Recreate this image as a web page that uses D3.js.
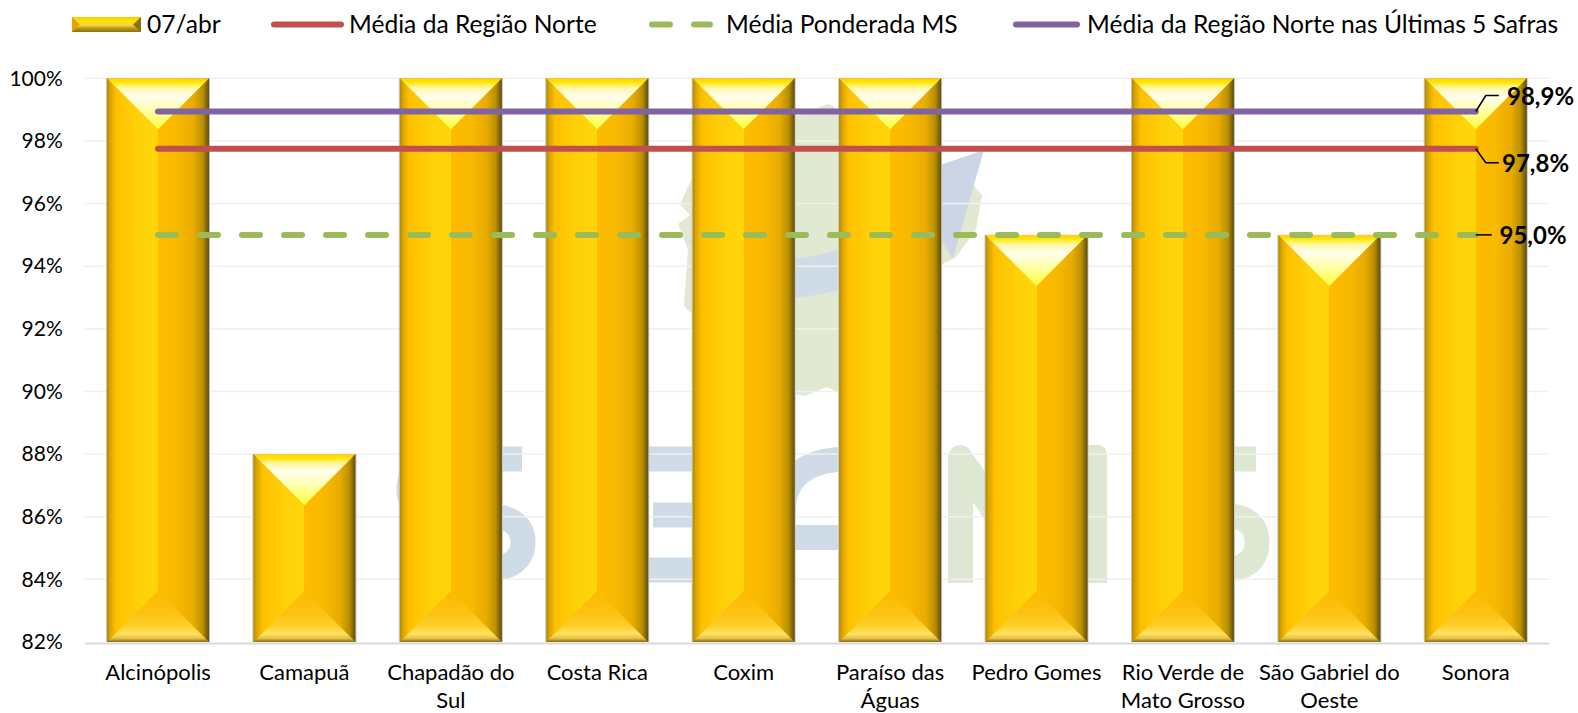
<!DOCTYPE html>
<html>
<head>
<meta charset="utf-8">
<script src="https://cdn.jsdelivr.net/npm/d3@7"></script>
<style>
  html, body { margin: 0; padding: 0; background: #fff; overflow: hidden; }
  text { font-family: Lato, "Open Sans", sans-serif; fill: #000; }
  .tick text { font-size: 21px; }
  .x-axis .tick text { font-size: 22px; }
  .legend text { font-size: 24.6px; }
  .value-label { font-size: 24px; font-weight: bold; }
</style>
</head>
<body>
<svg id="chart" width="1578" height="713"></svg>
<script>
let categories = ['Alcinópolis', 'Camapuã', 'Chapadão do Sul', 'Costa Rica', 'Coxim',
  'Paraíso das Águas', 'Pedro Gomes', 'Rio Verde de Mato Grosso', 'São Gabriel do Oeste', 'Sonora'];
let barValues = [100, 88, 100, 100, 100, 100, 95, 100, 95, 100];
let yTicks = [82, 84, 86, 88, 90, 92, 94, 96, 98, 100];

let barName = '07/abr';
let lineNames = ['Média da Região Norte', 'Média Ponderada MS', 'Média da Região Norte nas Últimas 5 Safras'];
let lineValues = [97.75, 95.0, 98.94];
let lineColors = ['#c0504d', '#9bbb59', '#8064a2'];

let svg = d3.select('#chart');
let defs = svg.append('defs');

let x = d3.scaleBand().domain(categories).range([84.8, 1549]).paddingInner(.303).paddingOuter(.1515);
let y = d3.scaleLinear().domain([82, 100]).range([642, 78.3]);

function gradient(id, stops, vertical) {
  let g = defs.append('linearGradient').attr('id', id)
    .attr('x1', 0).attr('y1', 0)
    .attr('x2', vertical ? 0 : 1).attr('y2', vertical ? 1 : 0);
  stops.forEach(s => g.append('stop').attr('offset', s[0]).attr('stop-color', s[1]));
}
gradient('barBody', [[0, '#b08a00'], [.03, '#d9a400'], [.09, '#ffc000'], [.3, '#ffd008'], [.5, '#ffd60a'],
  [.5, '#ffbc00'], [.7, '#f8b900'], [.85, '#e8ab00'], [.94, '#b98f00'], [1, '#5f4c10']]);
gradient('barTop', [[0, '#ffc81e'], [.08, '#ffe800'], [.18, '#fff6a0'], [.35, '#fffff0'], [.6, '#fffeb0'], [1, '#ffff3c']], true);
gradient('barBottom', [[0, '#fdbb00'], [.45, '#fcc212'], [.72, '#fdd232'], [.84, '#ffe365'], [.93, '#e8c040'], [1, '#7f6a1c']], true);
gradient('legendBody', [[0, '#ffca00'], [.3, '#ffe400'], [.55, '#f4d440'], [.75, '#b89a18'], [1, '#8a7212']], true);

// faded logo behind the plot
let wm = svg.append('g').attr('class', 'watermark');
let blue = '#cfdbe6', green = '#dde7d1';
wm.append('path').attr('fill', '#e1e9d3')
  .attr('d', 'M828 104 Q838 106 842 120 L860 150 L960 170 L982 195 L976 230 L955 258 L930 270 L900 330 L845 396 L827 387 L805 396 L785 392 L740 350 L690 312 L684 306 L688 250 L678 224 L690 215 L680 204 L705 150 Z');
wm.append('path').attr('fill', blue)
  .attr('d', 'M688 238 Q740 270 800 258 Q900 245 980 150 L952 258 L940 240 Q900 270 840 290 Q760 310 710 280 Z');
wm.append('path').attr('fill', '#ccd5e5')
  .attr('d', 'M940 165 L984 150 L953 258 L940 230 Z');

wm.append('path').attr('fill', 'none').attr('stroke', blue).attr('stroke-width', 25)
  .attr('d', 'M522 459 L450 459 Q409 459 409 490 Q409 515 450 515 L480 515 Q523 515 523 542 Q523 570 480 570 L420 570');
wm.append('path').attr('fill', 'none').attr('stroke', blue).attr('stroke-width', 25)
  .attr('d', 'M692 459 L610 459 L610 570 L692 570 M653 515 L692 515');
wm.append('path').attr('fill', 'none').attr('stroke', blue).attr('stroke-width', 25)
  .attr('d', 'M850 459 Q785 459 783 510');
wm.append('rect').attr('fill', blue).attr('x', 790).attr('y', 525).attr('width', 60).attr('height', 25);
wm.append('path').attr('fill', green)
  .attr('d', 'M948 583 L948 458 Q950 445 961 445 Q968 445 973 455 L990 478 L990 528 L973 502 L973 583 Z');
wm.append('path').attr('fill', green)
  .attr('d', 'M1080 583 L1080 445 L1097 445 Q1107 445 1107 458 L1107 583 Z');
wm.append('path').attr('fill', 'none').attr('stroke', green).attr('stroke-width', 25)
  .attr('d', 'M1256 459 L1180 459 Q1152 459 1152 490 Q1152 515 1180 515 L1220 515 Q1257 515 1257 542 Q1257 570 1220 570 L1160 570');

// gridlines + axes
svg.append('g').attr('class', 'grid')
  .selectAll('line').data(yTicks.slice(1)).enter().append('line')
  .attr('x1', 84.8).attr('x2', 1549)
  .attr('y1', d => y(d)).attr('y2', d => y(d))
  .attr('stroke', '#f0f0f0').attr('stroke-width', 1.5);

let yAxis = svg.append('g').attr('transform', 'translate(84.8,0)')
  .call(d3.axisLeft(y).tickValues(yTicks).tickSize(0).tickPadding(22).tickFormat(d => d + '%'));
yAxis.select('.domain').remove();

let xAxis = svg.append('g').attr('class', 'x-axis').attr('transform', 'translate(0,643)')
  .call(d3.axisBottom(x).tickSize(0).tickPadding(0));
xAxis.select('.domain').attr('stroke', '#d9d9d9').attr('stroke-width', 2);

function wrap(sel, width) {
  sel.each(function() {
    let t = d3.select(this), words = t.text().split(' '), line = [];
    t.text(null).attr('dy', null).attr('y', 36.5);
    let span = t.append('tspan').attr('x', 0).attr('dy', 0);
    words.forEach(w => {
      line.push(w);
      span.text(line.join(' '));
      if (span.node().getComputedTextLength() > width && line.length > 1) {
        line.pop();
        span.text(line.join(' '));
        line = [w];
        span = t.append('tspan').attr('x', 0).attr('dy', 28).text(w);
      }
    });
  });
}
xAxis.selectAll('.tick text').call(wrap, x.step() - 4);

// bars
let bars = svg.append('g').attr('class', 'bars')
  .selectAll('g').data(categories).enter().append('g');
let bx = d => x(d), bw = x.bandwidth();
let by = (d, i) => y(barValues[i]);

bars.append('rect')
  .attr('x', d => bx(d) - 1).attr('width', bw + 2)
  .attr('y', by).attr('height', (d, i) => y(82) - by(d, i))
  .attr('fill', '#c8c8c8');
bars.append('rect')
  .attr('x', bx).attr('width', bw)
  .attr('y', by).attr('height', (d, i) => y(82) - by(d, i))
  .attr('fill', 'url(#barBody)');
bars.append('polygon').attr('fill', 'url(#barTop)')
  .attr('points', (d, i) => [[bx(d), by(d, i)], [bx(d) + bw, by(d, i)], [bx(d) + bw / 2, by(d, i) + bw / 2]].join(' '));
bars.append('polygon').attr('fill', 'url(#barBottom)')
  .attr('points', d => [[bx(d), y(82)], [bx(d) + bw / 2, y(82) - bw / 2], [bx(d) + bw, y(82)]].join(' '));

// horizontal reference lines, first to last category centre
let xEnd = x(categories[categories.length - 1]) + bw / 2;
let lineGen = d3.line().x(d => x(d) + bw / 2);
let order = [1, 0, 2];
order.forEach(k => {
  svg.append('path')
    .attr('d', lineGen.y(() => y(lineValues[k]))(categories))
    .attr('fill', 'none')
    .attr('stroke', lineColors[k])
    .attr('stroke-width', 6)
    .attr('stroke-linecap', 'round')
    .attr('stroke-dasharray', k == 1 ? '18 24' : null);
});

// value labels with leaders
let labelFmt = v => d3.format('.1f')(v).replace('.', ',') + '%';
let labelPos = [{dy: 14, lx: 1502}, {dy: 0, lx: 1499.5}, {dy: -16, lx: 1507}];
lineValues.forEach((v, k) => {
  let ly = y(v), p = labelPos[k];
  let pts = p.dy == 0
    ? [[xEnd, ly], [xEnd + 16, ly]]
    : [[xEnd, ly], [xEnd + 10, ly + p.dy], [xEnd + 23, ly + p.dy]];
  svg.append('path').attr('d', d3.line()(pts))
    .attr('fill', 'none').attr('stroke', '#000').attr('stroke-width', 1.5);
  svg.append('text').attr('class', 'value-label')
    .attr('x', p.lx).attr('y', ly + p.dy).attr('dy', '.4em')
    .text(labelFmt(v));
});

// legend
let legend = svg.append('g').attr('class', 'legend');
let legendY = 24.5;
legend.append('rect').attr('x', 72).attr('y', 17).attr('width', 69).attr('height', 15).attr('fill', 'url(#legendBody)');
legend.append('polygon').attr('points', '72,17 80,24.5 72,32').attr('fill', '#e0a400');
legend.append('polygon').attr('points', '141,17 133,24.5 141,32').attr('fill', '#8f7010');
legend.append('text').attr('x', 147).attr('y', legendY).attr('dy', '.35em').text(barName);

let legendLines = [[274, 341, 349], [652, 710, 726], [1016, 1077, 1087]];
lineNames.forEach((name, k) => {
  let p = legendLines[k];
  legend.append('line').attr('x1', p[0]).attr('x2', p[1]).attr('y1', legendY).attr('y2', legendY)
    .attr('stroke', lineColors[k]).attr('stroke-width', 6).attr('stroke-linecap', 'round')
    .attr('stroke-dasharray', k == 1 ? '18 24' : null);
  legend.append('text').attr('x', p[2]).attr('y', legendY).attr('dy', '.35em').text(name);
});
</script>
</body>
</html>
